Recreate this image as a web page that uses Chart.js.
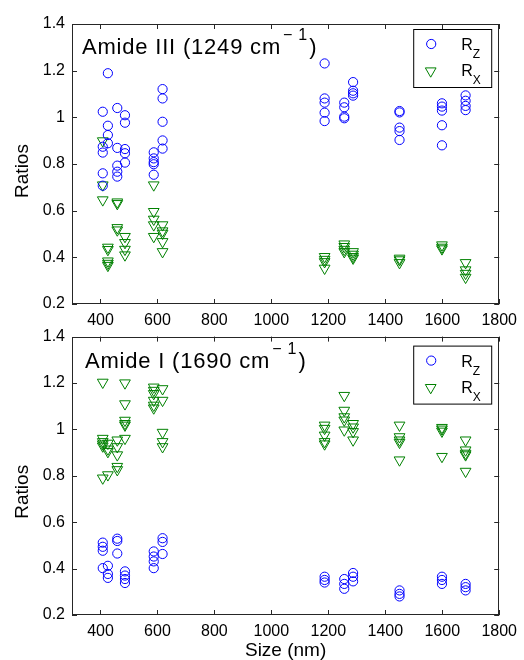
<!DOCTYPE html>
<html>
<head>
<meta charset="utf-8">
<script src="https://cdn.jsdelivr.net/npm/chart.js@4.4.0/dist/chart.umd.min.js"></script>
<style>
    body { margin: 0; background: #fff; }
    #wrap { position: relative; width: 524px; height: 660px; }
    canvas { position: absolute; left: 0; }
</style>
</head>
<body>
<div id="wrap">
    <canvas id="amide3" width="524" height="330" style="top:0"></canvas>
    <canvas id="amide1" width="524" height="340" style="top:320px"></canvas>
</div>
<script>
// particle sizes (nm), one per group of measurements
const sizes = [408, 426, 459, 486, 587, 618, 1187, 1256, 1287, 1450, 1599, 1682];

// Amide III (1249 cm-1) ratios, one list per size
const amide3Rz = [
    [1.024, 0.874, 0.849, 0.760, 0.707],
    [1.189, 0.964, 0.924, 0.889],
    [1.040, 0.869, 0.793, 0.767, 0.746],
    [1.009, 0.977, 0.864, 0.846, 0.806],
    [0.850, 0.824, 0.808, 0.799, 0.754],
    [1.121, 1.081, 0.981, 0.901, 0.866],
    [1.231, 1.081, 1.063, 1.020, 0.984],
    [1.063, 1.043, 1.003, 0.996],
    [1.151, 1.114, 1.103, 1.093],
    [1.027, 1.021, 0.956, 0.941, 0.903],
    [1.060, 1.046, 1.029, 0.966, 0.880],
    [1.094, 1.071, 1.049, 1.031]
];
const amide3Rx = [
    [0.899, 0.710, 0.646],
    [0.443, 0.433, 0.384, 0.374, 0.365],
    [0.637, 0.630, 0.527, 0.517],
    [0.489, 0.463, 0.434, 0.410],
    [0.710, 0.596, 0.563, 0.539, 0.489],
    [0.539, 0.513, 0.503, 0.467, 0.424],
    [0.403, 0.391, 0.381, 0.353],
    [0.457, 0.446, 0.434, 0.424],
    [0.424, 0.413, 0.403, 0.396],
    [0.396, 0.389, 0.377],
    [0.453, 0.443, 0.436],
    [0.377, 0.346, 0.331, 0.314]
];

// Amide I (1690 cm-1) ratios
const amide1Rz = [
    [0.512, 0.494, 0.477, 0.402],
    [0.412, 0.377, 0.360],
    [0.529, 0.519, 0.465],
    [0.388, 0.370, 0.355, 0.338],
    [0.474, 0.452, 0.431, 0.402],
    [0.531, 0.515, 0.463],
    [0.365, 0.351, 0.340],
    [0.355, 0.334, 0.313],
    [0.381, 0.365, 0.345],
    [0.306, 0.291, 0.280],
    [0.365, 0.351, 0.334],
    [0.334, 0.320, 0.306]
];
const amide1Rx = [
    [1.203, 0.961, 0.947, 0.937, 0.928, 0.790],
    [0.940, 0.915, 0.904, 0.804],
    [0.954, 0.925, 0.890, 0.840, 0.826],
    [1.200, 1.110, 1.039, 1.025, 1.018, 0.961],
    [1.182, 1.168, 1.154, 1.125, 1.104, 1.092],
    [1.175, 1.125, 0.987, 0.947, 0.925],
    [1.018, 1.004, 0.975, 0.947, 0.937],
    [1.146, 1.082, 1.054, 1.040, 0.997],
    [1.025, 1.010, 0.990, 0.954],
    [1.018, 0.968, 0.954, 0.944, 0.868],
    [1.008, 1.001, 0.992, 0.883],
    [0.954, 0.911, 0.897, 0.890, 0.819]
];

const xTicks = [400, 600, 800, 1000, 1200, 1400, 1600, 1800];
const yTicks = [0.2, 0.4, 0.6, 0.8, 1, 1.2, 1.4];

const FONT = '"Liberation Sans", Arial, sans-serif';
const BLUE = '#0000ff';
const GREEN = '#008000';

function toPoints(groups) {
    const pts = [];
    groups.forEach((vals, i) => {
        vals.forEach(v => pts.push({ x: sizes[i], y: v }));
    });
    return pts;
}

// matlab style box, inward ticks, panel label, y title and legend with subscripts
const matlabAxes = {
    id: 'matlabAxes',
    afterDraw(chart, args, opts) {
        const { ctx, chartArea: a, scales } = chart;
        ctx.save();
        ctx.strokeStyle = '#262626';
        ctx.lineWidth = 1;
        ctx.strokeRect(Math.round(a.left) + 0.5, Math.round(a.top) + 0.5,
            Math.round(a.width) - 1, Math.round(a.height) - 1);

        ctx.beginPath();
        scales.x.ticks.forEach(t => {
            const px = Math.round(scales.x.getPixelForValue(t.value)) + 0.5;
            ctx.moveTo(px, a.bottom); ctx.lineTo(px, a.bottom - 5);
            ctx.moveTo(px, a.top); ctx.lineTo(px, a.top + 5);
        });
        scales.y.ticks.forEach(t => {
            const py = Math.round(scales.y.getPixelForValue(t.value)) + 0.5;
            ctx.moveTo(a.left, py); ctx.lineTo(a.left + 5, py);
            ctx.moveTo(a.right, py); ctx.lineTo(a.right - 5, py);
        });
        ctx.stroke();

        // y title, sits a bit below the panel middle like the original
        ctx.fillStyle = '#000';
        ctx.save();
        ctx.translate(23, (a.top + a.bottom) / 2 + opts.yTitleShift);
        ctx.rotate(-Math.PI / 2);
        ctx.font = '19px ' + FONT;
        ctx.textAlign = 'center';
        ctx.textBaseline = 'middle';
        ctx.fillText('Ratios', 0, 0);
        ctx.restore();

        // panel label, e.g. "Amide III (1249 cm^-1)"
        ctx.textBaseline = 'alphabetic';
        ctx.textAlign = 'left';
        const tx = a.left + opts.labelX;
        const ty = a.top + opts.labelY;
        ctx.font = '22px ' + FONT;
        ctx.letterSpacing = '0.8px';
        ctx.fillText(opts.label, tx, ty);
        let sx = tx + ctx.measureText(opts.label).width + 2;
        ctx.letterSpacing = '0px';
        ctx.font = '16px ' + FONT;
        ctx.fillText('\u2212', sx, ty - 14);
        sx += ctx.measureText('\u2212').width + 6;
        ctx.fillText('1', sx, ty - 14);
        sx += ctx.measureText('1').width + 2;
        ctx.font = '22px ' + FONT;
        ctx.fillText(')', sx, ty);

        // legend
        const lx = a.right - 86, ly = a.top + opts.legendTop;
        ctx.fillStyle = '#fff';
        ctx.fillRect(lx, ly, 78, 58);
        ctx.strokeStyle = '#000';
        ctx.strokeRect(lx + 0.5, ly + 0.5, 78, 58);

        ctx.lineWidth = 1;
        ctx.strokeStyle = BLUE;
        ctx.beginPath();
        ctx.arc(lx + 18, ly + 15, 4.6, 0, Math.PI * 2);
        ctx.stroke();

        const r = 6.2, cx = lx + 17.5, cy = ly + 42;
        ctx.strokeStyle = GREEN;
        ctx.beginPath();
        ctx.moveTo(cx, cy + r);
        ctx.lineTo(cx - r * 0.866, cy - r / 2);
        ctx.lineTo(cx + r * 0.866, cy - r / 2);
        ctx.closePath();
        ctx.stroke();

        ctx.fillStyle = '#000';
        [['Z', 21], ['X', 47]].forEach(([sub, base]) => {
            ctx.font = '16px ' + FONT;
            ctx.fillText('R', lx + 48, ly + base);
            const rw = ctx.measureText('R').width;
            ctx.font = '12px ' + FONT;
            ctx.fillText(sub, lx + 48 + rw, ly + base + 8);
        });
        ctx.restore();
    }
};

function makePanel(canvasId, rz, rx, label, opts) {
    const ctx = document.getElementById(canvasId).getContext('2d');
    return new Chart(ctx, {
        type: 'scatter',
        data: {
            datasets: [
                {
                    label: 'Rz',
                    data: toPoints(rz),
                    pointStyle: 'circle',
                    pointRadius: 4.6,
                    borderColor: BLUE,
                    backgroundColor: 'rgba(0,0,0,0)',
                    borderWidth: 1
                },
                {
                    label: 'Rx',
                    data: toPoints(rx),
                    pointStyle: 'triangle',
                    pointRadius: 6.2,
                    pointRotation: 180,
                    borderColor: GREEN,
                    backgroundColor: 'rgba(0,0,0,0)',
                    borderWidth: 1
                }
            ]
        },
        options: {
            responsive: false,
            animation: false,
            events: [],
            layout: { padding: { top: opts.padTop, right: 23, left: 0, bottom: 0 } },
            plugins: {
                legend: { display: false },
                tooltip: { enabled: false },
                matlabAxes: {
                    label: label,
                    labelX: opts.labelX,
                    labelY: opts.labelY,
                    legendTop: opts.legendTop,
                    yTitleShift: opts.yTitleShift
                }
            },
            scales: {
                x: {
                    type: 'linear',
                    min: 300,
                    max: 1800,
                    afterBuildTicks: s => { s.ticks = xTicks.map(v => ({ value: v })); },
                    afterFit: s => { s.height = opts.xHeight; },
                    grid: { display: false, drawTicks: false },
                    border: { display: false },
                    ticks: {
                        padding: 7,
                        color: '#000',
                        font: { family: FONT, size: 16 },
                        maxRotation: 0,
                        callback: v => String(v)
                    },
                    title: {
                        display: opts.showXTitle,
                        text: 'Size (nm)',
                        color: '#000',
                        font: { family: FONT, size: 19, lineHeight: 1 },
                        padding: { top: 0, bottom: 0 }
                    }
                },
                y: {
                    min: 0.2,
                    max: 1.4,
                    afterBuildTicks: s => { s.ticks = yTicks.map(v => ({ value: v })); },
                    afterFit: s => { s.width = 72; },
                    grid: { display: false, drawTicks: false },
                    border: { display: false },
                    ticks: {
                        padding: 7,
                        color: '#000',
                        font: { family: FONT, size: 16 },
                        callback: v => String(v)
                    }
                }
            }
        },
        plugins: [matlabAxes]
    });
}

makePanel('amide3', amide3Rz, amide3Rx, 'Amide III (1249 cm',
    { padTop: 24, xHeight: 26, showXTitle: false, labelX: 10, labelY: 30, legendTop: 5, yTitleShift: 7 });
makePanel('amide1', amide1Rz, amide1Rx, 'Amide I (1690 cm',
    { padTop: 14, xHeight: 45, showXTitle: true, labelX: 13, labelY: 31, legendTop: 9, yTitleShift: 16 });
</script>
</body>
</html>
